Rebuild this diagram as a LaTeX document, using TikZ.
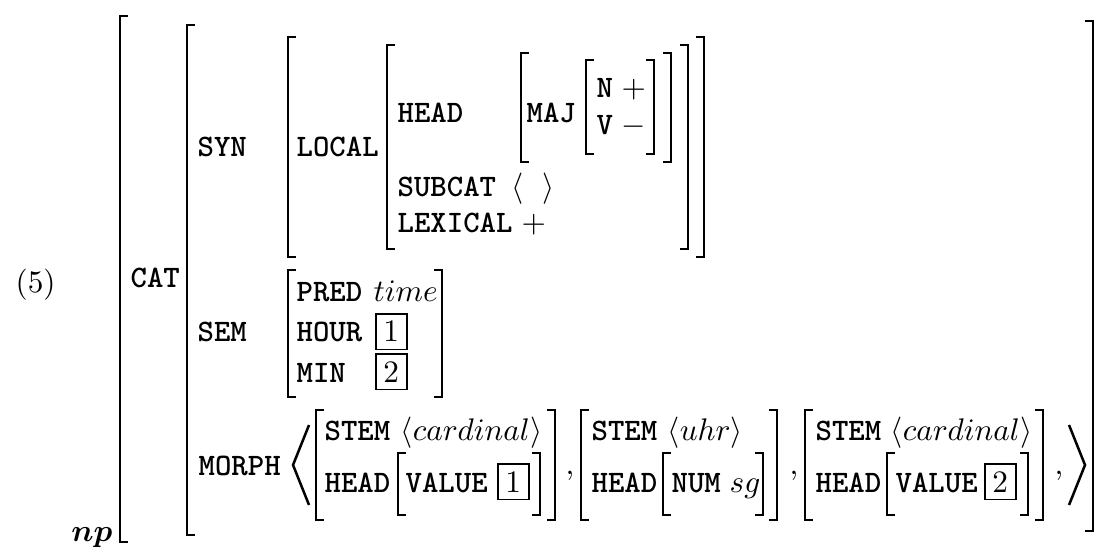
\documentclass[tikz,border=0pt]{standalone}
\usepackage{amsmath,bm}

\begin{document}
\begin{tikzpicture}[x=.32pt,y=-.32pt,
  attr/.style={anchor=base west,inner sep=0pt,font=\ttfamily\bfseries},
  val/.style={anchor=base west,inner sep=0pt},
  tag/.style={anchor=base west,draw,line width=.6pt,inner sep=2.4pt},
  brk/.style={line width=.8pt}]
 \useasboundingbox(0,0)rectangle(1108,553);
 % outer matrix
 \node[val](ex)at(15,293){(5)};
 \node[val,anchor=base east](np)at(113,541){$\bm{np}$};
 \draw[brk](128,16)-|(120,542)--(128,542);
 \draw[brk](1085,21)-|(1093,531)--(1085,531);
 \node[attr](cat)at(130,288){CAT};
 \draw[brk](195,25)-|(187,535)--(195,535);
 % SYN
 \node[attr](syn)at(197,157){SYN};
 \draw[brk](296,37)-|(288,257)--(296,257);
 \draw[brk](696,37)-|(704,257)--(696,257);
 \node[attr](local)at(296,157){LOCAL};
 \draw[brk](395,45)-|(387,249)--(395,249);
 \draw[brk](680,45)-|(688,249)--(680,249);
 \node[attr](head)at(397,123){HEAD};
 \draw[brk](529,53)-|(521,162)--(529,162);
 \draw[brk](663,53)-|(671,162)--(663,162);
 \node[attr](maj)at(526,123){MAJ};
 \draw[brk](594,60)-|(586,154)--(594,154);
 \draw[brk](646,60)-|(654,154)--(646,154);
 \node[attr](n)at(596,98){N};
 \node[val](nplus)at(621,98){$+$};
 \node[attr](v)at(596,135){V};
 \node[val](vminus)at(621,135){$-$};
 \node[attr](subcat)at(397,197){SUBCAT};
 \node[val](empty)at(511,197){$\langle\hspace{.6em}\rangle$};
 \node[attr](lexical)at(397,233){LEXICAL};
 \node[val](lexplus)at(521,233){$+$};
 % SEM
 \node[attr](sem)at(197,342){SEM};
 \draw[brk](296,270)-|(288,397)--(296,397);
 \draw[brk](434,270)-|(442,397)--(434,397);
 \node[attr](pred)at(296,302){PRED};
 \node[val](time)at(373,302){$time$};
 \node[attr](hour)at(296,342){HOUR};
 \node[tag](one)at(375,342){1};
 \node[attr](min)at(296,382){MIN};
 \node[tag](two)at(375,382){2};
 % MORPH
 \node[attr](morph)at(198,475){MORPH};
 \draw[brk,line join=miter](309,425)--(293,465)--(309,505);
 \draw[brk,line join=miter](1069,425)--(1085,465)--(1069,505);
 % first element
 \draw[brk](324,410)-|(316,520)--(324,520);
 \draw[brk](547,410)-|(555,520)--(547,520);
 \node[attr](stema)at(324,440){STEM};
 \node[val](carda)at(400,440){$\langle cardinal\rangle$};
 \node[attr](heada)at(324,492){HEAD};
 \draw[brk](406,453)-|(398,515)--(406,515);
 \draw[brk](532,453)-|(540,515)--(532,515);
 \node[attr](valuea)at(405,492){VALUE};
 \node[tag](taga)at(497,492){1};
 \node[val](comma)at(565,474){,};
 % second element
 \draw[brk](589,410)-|(581,520)--(589,520);
 \draw[brk](769,410)-|(777,520)--(769,520);
 \node[attr](stemb)at(591,440){STEM};
 \node[val](uhr)at(667,440){$\langle uhr\rangle$};
 \node[attr](headb)at(591,492){HEAD};
 \draw[brk](671,453)-|(663,515)--(671,515);
 \draw[brk](755,453)-|(763,515)--(755,515);
 \node[attr](num)at(671,492){NUM};
 \node[val](sg)at(729,492){$sg$};
 \node[val](commb)at(789,474){,};
 % third element
 \draw[brk](813,410)-|(805,520)--(813,520);
 \draw[brk](1035,410)-|(1043,520)--(1035,520);
 \node[attr](stemc)at(815,440){STEM};
 \node[val](cardc)at(890,440){$\langle cardinal\rangle$};
 \node[attr](headc)at(815,492){HEAD};
 \draw[brk](895,453)-|(887,515)--(895,515);
 \draw[brk](1020,453)-|(1028,515)--(1020,515);
 \node[attr](valuec)at(895,492){VALUE};
 \node[tag](tagc)at(984,492){2};
 \node[val](commc)at(1054,474){,};
\end{tikzpicture}
\end{document}
